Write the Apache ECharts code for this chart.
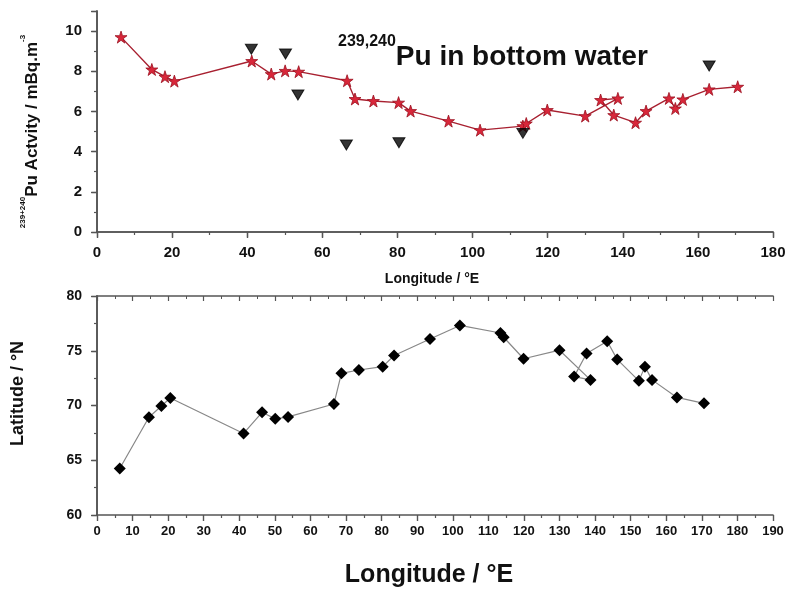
<!DOCTYPE html>
<html>
<head>
<meta charset="utf-8">
<script src="https://cdn.jsdelivr.net/npm/echarts@6/dist/echarts.min.js"></script>
<style>
  html, body { margin: 0; padding: 0; background: #fff; }
  #chart { width: 790px; height: 589px; }
</style>
</head>
<body>
<div id="chart"></div>
<script>
// Station longitudes (°E), in cruise order
const longitude = [6.4, 14.6, 18.1, 20.6, 41.2, 46.4, 50.1, 53.7, 66.6, 68.7, 73.6, 80.3, 83.5, 93.6,
  102, 113.4, 114.3, 119.9, 130, 138.7, 134.1, 137.6, 143.4, 146.2, 152.3, 154, 156, 163, 170.6];
// 239+240Pu activity in bottom water (mBq/m3) at each station
const puActivity = [9.7, 8.09, 7.73, 7.51, 8.51, 7.86, 8.02, 7.98, 7.53, 6.62, 6.52, 6.44, 6.02, 5.52,
  5.07, 5.27, 5.4, 6.07, 5.77, 6.65, 6.57, 5.82, 5.44, 6.02, 6.65, 6.15, 6.6, 7.1, 7.23];
// Station latitudes (°N)
const latitude = [64.25, 68.93, 69.95, 70.68, 67.45, 69.38, 68.78, 68.96, 70.14, 72.94, 73.24, 73.55, 74.57, 76.08,
  77.31, 76.62, 76.23, 74.27, 75.05, 72.34, 72.64, 74.75, 75.87, 74.21, 72.25, 73.55, 72.34, 70.74, 70.2];
// Comparison values from earlier measurements
const refLongitude = [41.1, 50.2, 53.5, 66.4, 80.4, 113.4, 163];
const refActivity = [9.1, 8.86, 6.82, 4.33, 4.44, 4.91, 8.26];

const FONT = 'Liberation Sans, Arial, sans-serif';
const AXIS_COLOR = '#555';

function pairs(xs, ys) { return xs.map((x, i) => [x, ys[i]]); }

function frameAxis(extra) {
  return Object.assign({
    type: 'value',
    axisLine: { show: true, lineStyle: { color: AXIS_COLOR, width: 1.6 } },
    splitLine: { show: false },
    axisTick: { show: true, inside: false, length: 6, lineStyle: { color: AXIS_COLOR, width: 1.4 } },
    minorTick: { show: true, splitNumber: 2, length: 3, lineStyle: { color: AXIS_COLOR, width: 1.2 } },
    axisLabel: { color: '#111', fontFamily: FONT, fontWeight: 'bold' }
  }, extra);
}
function mirrorAxis(extra) {
  return Object.assign(frameAxis({}), {
    axisLabel: { show: false },
    axisTick: { show: true, inside: true, length: 5, lineStyle: { color: AXIS_COLOR, width: 1.2 } },
    minorTick: { show: true, splitNumber: 2, length: 3, lineStyle: { color: AXIS_COLOR, width: 1 } }
  }, extra);
}

const option = {
  backgroundColor: '#fff',
  animation: false,
  title: {
    text: '{sup|239,240}{main|Pu in bottom water}',
    left: 333,
    top: 29,
    textStyle: {
      rich: {
        sup: { fontFamily: FONT, fontWeight: 'bold', fontSize: 16, color: '#111', verticalAlign: 'top', lineHeight: 10 },
        main: { fontFamily: FONT, fontWeight: 'bold', fontSize: 28, color: '#111', lineHeight: 46 }
      }
    }
  },
  grid: [
    { left: 97, top: 11, width: 676, height: 221 },
    { left: 97, top: 296, width: 676, height: 221 }
  ],
  xAxis: [
    frameAxis({
      gridIndex: 0, min: 0, max: 180, interval: 20,
      axisLabel: { color: '#111', fontFamily: FONT, fontWeight: 'bold', fontSize: 15, margin: 13 },
      name: 'Longitude / °E', nameLocation: 'middle', nameGap: 40,
      nameTextStyle: { fontFamily: FONT, fontWeight: 'bold', fontSize: 14, color: '#111', padding: [0, 6, 0, 0] }
    }),
    mirrorAxis({ gridIndex: 0, position: 'top', min: 0, max: 180, interval: 20 }),
    frameAxis({
      gridIndex: 1, min: 0, max: 190, interval: 10,
      axisLabel: { color: '#111', fontFamily: FONT, fontWeight: 'bold', fontSize: 13, margin: 10 },
      name: 'Longitude / °E', nameLocation: 'middle', nameGap: 48,
      nameTextStyle: { fontFamily: FONT, fontWeight: 'bold', fontSize: 25, color: '#111', padding: [0, 12, 0, 0] }
    }),
    mirrorAxis({ gridIndex: 1, position: 'top', min: 0, max: 190, interval: 10 })
  ],
  yAxis: [
    frameAxis({
      gridIndex: 0, min: 0, max: 11, interval: 2,
      axisLabel: { color: '#111', fontFamily: FONT, fontWeight: 'bold', fontSize: 15, margin: 15,
        formatter: v => (v % 2 === 0 && v <= 10) ? String(v) : '' },
      name: '{sup|239+240}{main|Pu Actvity / mBq.m}{sup|-3}',
      nameLocation: 'middle', nameGap: 52, nameRotate: 90,
      nameTextStyle: {
        padding: [0, 20, 0, 0],
        rich: {
          sup: { fontFamily: FONT, fontWeight: 'bold', fontSize: 8, color: '#111', verticalAlign: 'top', lineHeight: 6 },
          main: { fontFamily: FONT, fontWeight: 'bold', fontSize: 17, color: '#111', lineHeight: 26 }
        }
      }
    }),
    mirrorAxis({ gridIndex: 0, position: 'right', min: 0, max: 11, interval: 2 }),
    frameAxis({
      gridIndex: 1, min: 60, max: 80, interval: 5,
      axisLabel: { color: '#111', fontFamily: FONT, fontWeight: 'bold', fontSize: 14, margin: 15 },
      name: 'Latitude / °N', nameLocation: 'middle', nameGap: 70, nameRotate: 90,
      nameTextStyle: { fontFamily: FONT, fontWeight: 'bold', fontSize: 18, color: '#111', padding: [0, 0, 0, 24] }
    }),
    mirrorAxis({ gridIndex: 1, position: 'right', min: 60, max: 80, interval: 5 })
  ],
  series: [
    {
      name: 'Pu activity',
      type: 'line',
      xAxisIndex: 0, yAxisIndex: 0,
      data: pairs(longitude, puActivity),
      symbol: 'path://M50,0 L61.8,35.1 L98.9,35.1 L68.9,57 L80.3,92.2 L50,70.5 L19.7,92.2 L31.1,57 L1.1,35.1 L38.2,35.1 Z',
      symbolSize: 12,
      itemStyle: { color: '#d8273a', borderColor: '#9a1020', borderWidth: 0.8 },
      lineStyle: { color: '#a82030', width: 1.4 },
      z: 3
    },
    {
      name: 'Reference',
      type: 'scatter',
      xAxisIndex: 0, yAxisIndex: 0,
      data: pairs(refLongitude, refActivity),
      symbol: 'path://M0,0 L100,0 L50,80 Z',
      symbolSize: [12, 10],
      itemStyle: { color: '#000', borderColor: '#000', borderWidth: 1 },
      z: 4
    },
    {
      name: 'Latitude',
      type: 'line',
      xAxisIndex: 2, yAxisIndex: 2,
      data: pairs(longitude, latitude),
      symbol: 'diamond',
      symbolSize: [12, 12],
      itemStyle: { color: '#000' },
      lineStyle: { color: '#888', width: 1.2 }
    }
  ]
};

const chart = echarts.init(document.getElementById('chart'), null, { renderer: 'canvas' });
chart.setOption(option);
</script>
</body>
</html>
